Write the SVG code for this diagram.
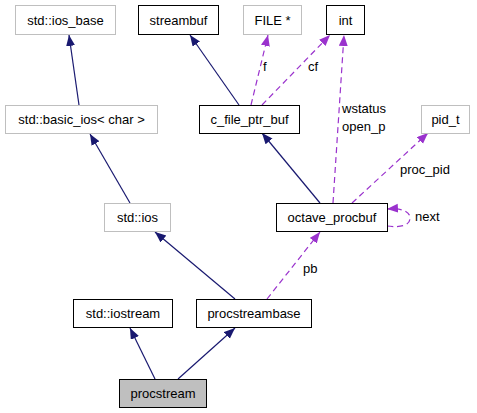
<svg xmlns="http://www.w3.org/2000/svg" width="477" height="413" viewBox="0 0 477 413">
<style>
text{font-family:"Liberation Sans",Arial,sans-serif;font-size:13px;fill:#000}
.n text{text-anchor:middle}
.ext rect{fill:#fff;stroke:#bfbfbf;stroke-width:1}
.int rect{fill:#fff;stroke:#000;stroke-width:1}
.cur rect{fill:#bfbfbf;stroke:#000;stroke-width:1}
.inh{fill:none;stroke:#191970;stroke-width:1.2;marker-end:url(#ab)}
.use{fill:none;stroke:#9a32cd;stroke-width:1.2;stroke-dasharray:6,4;marker-end:url(#ap)}
</style>
<defs>
<marker id="ab" markerUnits="userSpaceOnUse" markerWidth="12" markerHeight="10" refX="11" refY="4.5" orient="auto"><path d="M0,0 L11,4.5 L0,9 z" fill="#191970"/></marker>
<marker id="ap" markerUnits="userSpaceOnUse" markerWidth="12" markerHeight="10" refX="11" refY="4.5" orient="auto"><path d="M0,0 L11,4.5 L0,9 z" fill="#9a32cd"/></marker>
</defs>
<rect width="477" height="413" fill="#fff"/>
<g id="edges">
<path class="inh" d="M79,105 L69,35"/>
<path class="inh" d="M239,105 L190,35"/>
<path class="use" d="M251,105 L268,35"/>
<text x="263" y="71">f</text>
<path class="use" d="M262,105 L330,35"/>
<text x="308" y="71">cf</text>
<path class="use" d="M333,203 L344,35"/>
<text x="342" y="113">wstatus</text>
<text x="342" y="131">open_p</text>
<path class="use" d="M352,203 L428,133"/>
<text x="400" y="174">proc_pid</text>
<path class="inh" d="M320,203 L262,133"/>
<path class="use" d="M387,226 C402,228 410,225 410,218 C410,211 401,208 387,209"/>
<text x="415" y="221">next</text>
<path class="inh" d="M130,203 L90,134"/>
<path class="inh" d="M235,299 L155,232"/>
<path class="use" d="M267,299 L320,232"/>
<text x="303" y="273">pb</text>
<path class="inh" d="M155,379 L130,328"/>
<path class="inh" d="M178,379 L235,328"/>
</g>
<g id="n_ios_base" class="n ext"><rect x="15.5" y="5.5" width="100" height="29"/><text x="65.5" y="24.5">std::ios_base</text></g>
<g id="n_streambuf" class="n int"><rect x="138.5" y="5.5" width="80" height="29"/><text x="178.5" y="24.5">streambuf</text></g>
<g id="n_FILE" class="n ext"><rect x="243.5" y="5.5" width="58" height="29"/><text x="272.5" y="24.5">FILE *</text></g>
<g id="n_int" class="n int"><rect x="326.5" y="5.5" width="38" height="29"/><text x="345.5" y="24.5">int</text></g>
<g id="n_basic_ios" class="n ext"><rect x="5.5" y="105.5" width="152" height="28"/><text x="81.5" y="124">std::basic_ios&lt; char &gt;</text></g>
<g id="n_c_file_ptr_buf" class="n int"><rect x="199.5" y="105.5" width="100" height="28"/><text x="249.5" y="124">c_file_ptr_buf</text></g>
<g id="n_pid_t" class="n ext"><rect x="421.5" y="105.5" width="48" height="28"/><text x="445.5" y="124">pid_t</text></g>
<g id="n_ios" class="n ext"><rect x="104.5" y="203.5" width="66" height="28"/><text x="137.5" y="222">std::ios</text></g>
<g id="n_octave_procbuf" class="n int"><rect x="276.5" y="203.5" width="111" height="28"/><text x="332" y="222">octave_procbuf</text></g>
<g id="n_iostream" class="n int"><rect x="73.5" y="299.5" width="99" height="28"/><text x="123" y="318">std::iostream</text></g>
<g id="n_procstreambase" class="n int"><rect x="196.5" y="299.5" width="115" height="28"/><text x="254" y="318">procstreambase</text></g>
<g id="n_procstream" class="n cur"><rect x="119.5" y="379.5" width="87" height="28"/><text x="163" y="398">procstream</text></g>
</svg>
